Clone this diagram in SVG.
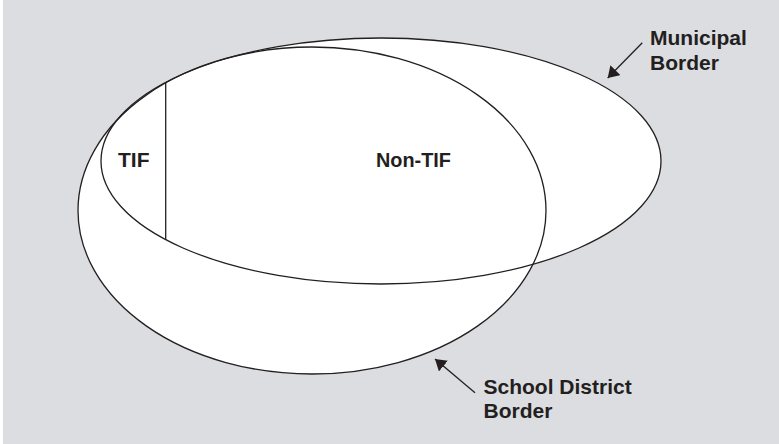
<svg xmlns="http://www.w3.org/2000/svg" width="779" height="444" viewBox="0 0 779 444">
  <style>
    .area { fill: #ffffff; stroke: none; }
    .border { fill: none; stroke: #231f20; stroke-width: 1.3; }
    .lbl { font-family: "Liberation Sans", Arial, sans-serif; font-weight: bold; font-size: 21px; fill: #231f20; }
    .conn { stroke: #231f20; stroke-width: 1.3; fill: none; }
  </style>
  <defs>
    <marker id="arrow" viewBox="0 -7 11 14" refX="11" refY="0" markerWidth="11" markerHeight="14" markerUnits="userSpaceOnUse" orient="auto">
      <path d="M0,-7 L11,0 L0,7 z" fill="#231f20"/>
    </marker>
  </defs>
  <rect x="0" y="0" width="779" height="444" fill="#ffffff"/>
  <rect x="3" y="0" width="776" height="444" fill="#dcdde0"/>

  <g id="fills">
    <ellipse class="area" cx="312" cy="210.5" rx="234" ry="163.5"/>
    <ellipse class="area" cx="381" cy="161" rx="280" ry="123"/>
  </g>

  <g id="school-district">
    <ellipse class="border" cx="312" cy="210.5" rx="234" ry="163.5"/>
  </g>

  <g id="municipal">
    <ellipse class="border" cx="381" cy="161" rx="280" ry="123"/>
  </g>

  <g id="tif">
    <line class="border" x1="165.7" y1="82.5" x2="165.7" y2="239.5"/>
    <text class="lbl" x="118" y="166.7">TIF</text>
  </g>

  <g id="non-tif">
    <text class="lbl" x="376" y="166.7" textLength="75" lengthAdjust="spacingAndGlyphs">Non-TIF</text>
  </g>

  <g id="municipal-label">
    <text class="lbl" x="650" y="45">Municipal</text>
    <text class="lbl" x="650" y="69.5">Border</text>
  </g>

  <g id="school-label">
    <text class="lbl" x="483.5" y="393.7">School District</text>
    <text class="lbl" x="483.5" y="418">Border</text>
  </g>

  <g id="connectors">
    <line class="conn" x1="642.3" y1="42.7" x2="607.7" y2="78" marker-end="url(#arrow)"/>
    <line class="conn" x1="475" y1="392.7" x2="435" y2="359" marker-end="url(#arrow)"/>
  </g>
</svg>
